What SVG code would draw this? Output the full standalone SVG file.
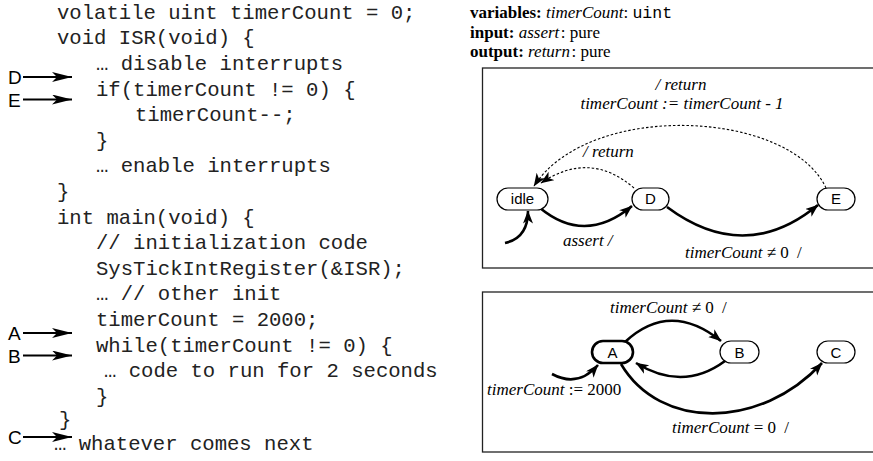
<svg xmlns="http://www.w3.org/2000/svg" width="873" height="461" viewBox="0 0 873 461">
<defs>
<marker id="ah" markerUnits="userSpaceOnUse" markerWidth="16" markerHeight="12" refX="12.5" refY="5" orient="auto"><path d="M0,0 L13,5 L0,10 L3.5,5 z" fill="#000"/></marker>
<marker id="ahc" markerUnits="userSpaceOnUse" markerWidth="24" markerHeight="12" refX="20" refY="5" orient="auto"><path d="M0,0 L20,5 L0,10 L5,5 z" fill="#000"/></marker>
</defs>
<style>
.code{font-family:"Liberation Mono","Courier New",monospace;font-size:20.6px;fill:#222}
.lbl{font-family:"Liberation Sans",Arial,sans-serif;font-size:19px;fill:#000}
.ser{font-family:"Liberation Serif","Times New Roman",serif;font-size:17px;fill:#000}
.it{font-style:italic}
.b{font-weight:bold}
.mono{font-family:"Liberation Mono","Courier New",monospace;font-size:16.5px}
.frame{fill:none;stroke:#222;stroke-width:1.3}
.st{fill:#fff;stroke:#000;stroke-width:1.2}
.thick{stroke-width:2.6}
.nt{font-family:"Liberation Sans",Arial,sans-serif;font-size:15px;text-anchor:middle;fill:#000}
.e{fill:none;stroke:#000;stroke-width:2.6;marker-end:url(#ah)}
.d{fill:none;stroke:#000;stroke-width:1.1;stroke-dasharray:2.5 2;marker-end:url(#ah)}
.pa{fill:none;stroke:#000;stroke-width:1.8;marker-end:url(#ahc)}
</style>
<rect width="873" height="461" fill="#fff"/>

<g id="code">
<text class="code" x="57" y="18.7">volatile uint timerCount = 0;</text>
<text class="code" x="57" y="44.3">void ISR(void) {</text>
<text class="code" x="96" y="69.9">… disable interrupts</text>
<text class="code" x="96" y="95.5">if(timerCount != 0) {</text>
<text class="code" x="135" y="121.1">timerCount--;</text>
<text class="code" x="96" y="146.7">}</text>
<text class="code" x="96" y="172.3">… enable interrupts</text>
<text class="code" x="57" y="197.9">}</text>
<text class="code" x="57" y="223.5">int main(void) {</text>
<text class="code" x="96" y="249.1">// initialization code</text>
<text class="code" x="96" y="274.7">SysTickIntRegister(&amp;ISR);</text>
<text class="code" x="96" y="300.3">… // other init</text>
<text class="code" x="96" y="325.9">timerCount = 2000;</text>
<text class="code" x="96" y="351.5">while(timerCount != 0) {</text>
<text class="code" x="104" y="377.1">… code to run for 2 seconds</text>
<text class="code" x="96" y="402.7">}</text>
<text class="code" x="59" y="426">}</text>
<text class="code" x="54" y="450">… whatever comes next</text>
</g>

<g id="ptrD"><text class="lbl" x="8" y="84">D</text><line class="pa" x1="23" y1="77" x2="72" y2="77"/></g>
<g id="ptrE"><text class="lbl" x="8" y="106.5">E</text><line class="pa" x1="23" y1="99.5" x2="72" y2="99.5"/></g>
<g id="ptrA"><text class="lbl" x="8" y="340">A</text><line class="pa" x1="23" y1="333" x2="72" y2="333"/></g>
<g id="ptrB"><text class="lbl" x="8" y="362.5">B</text><line class="pa" x1="23" y1="355.5" x2="72" y2="355.5"/></g>
<g id="ptrC"><text class="lbl" x="8" y="444">C</text><line class="pa" x1="23" y1="437" x2="72" y2="437"/></g>

<g id="header">
<text class="ser" x="470" y="18"><tspan class="b">variables:</tspan> <tspan class="it">timerCount</tspan>: <tspan class="mono">uint</tspan></text>
<text class="ser" x="470" y="38"><tspan class="b">input:</tspan> <tspan class="it">assert</tspan><tspan dx="1.5">: pure</tspan></text>
<text class="ser" x="470" y="57"><tspan class="b">output:</tspan> <tspan class="it">return</tspan><tspan dx="1.5">: pure</tspan></text>
</g>

<g id="frames">
<rect class="frame" x="482.5" y="68" width="420" height="200"/>
<rect class="frame" x="482.5" y="292" width="420" height="160"/>
</g>

<g id="connectors">
<path class="e" d="M540,208 Q585,245 632,206"/>
<path class="e" d="M505,243 Q528,238 528,211"/>
<path class="e" d="M667,207 Q745,265 818,205"/>
<path class="d" d="M634,188 Q590,150 541,183"/>
<path class="d" d="M826,188 C790,110 590,100 534,186"/>
<path class="e" d="M625,342 Q670,300 721,341"/>
<path class="e" d="M725,361 Q683,392 636,363"/>
<path class="e" d="M621,364 C660,430 760,430 822,363"/>
<path class="e" d="M552,374 Q578,388 598,365"/>
</g>

<g id="top-labels">
<text class="ser it" x="681" y="90" text-anchor="middle">/ return</text>
<text class="ser it" x="682" y="109" text-anchor="middle">timerCount := timerCount - 1</text>
<text class="ser it" x="583" y="157">/ return</text>
<text class="ser it" x="563" y="246">assert /</text>
<text class="ser" x="685" y="258"><tspan class="it">timerCount</tspan> ≠ 0 <tspan dx="4">/</tspan></text>
</g>

<g id="bottom-labels">
<text class="ser" x="610" y="313"><tspan class="it">timerCount</tspan> ≠ 0 <tspan dx="4">/</tspan></text>
<text class="ser" x="487" y="395"><tspan class="it">timerCount</tspan> := 2000</text>
<text class="ser" x="672" y="433"><tspan class="it">timerCount</tspan> = 0 <tspan dx="4">/</tspan></text>
</g>

<g id="idle"><rect class="st" x="497" y="188" width="51" height="22" rx="11"/><text class="nt" x="522.5" y="204">idle</text></g>
<g id="D"><rect class="st" x="632" y="188" width="37" height="22" rx="11"/><text class="nt" x="650.5" y="204">D</text></g>
<g id="E"><rect class="st" x="817" y="188" width="38" height="22" rx="11"/><text class="nt" x="836" y="204">E</text></g>
<g id="A"><rect class="st thick" x="592" y="341" width="41" height="22" rx="11"/><text class="nt" x="612.5" y="357.5">A</text></g>
<g id="B"><rect class="st" x="720" y="341" width="39" height="22" rx="11"/><text class="nt" x="739.5" y="357.5">B</text></g>
<g id="C"><rect class="st" x="817" y="341" width="38" height="22" rx="11"/><text class="nt" x="836" y="357.5">C</text></g>
</svg>
